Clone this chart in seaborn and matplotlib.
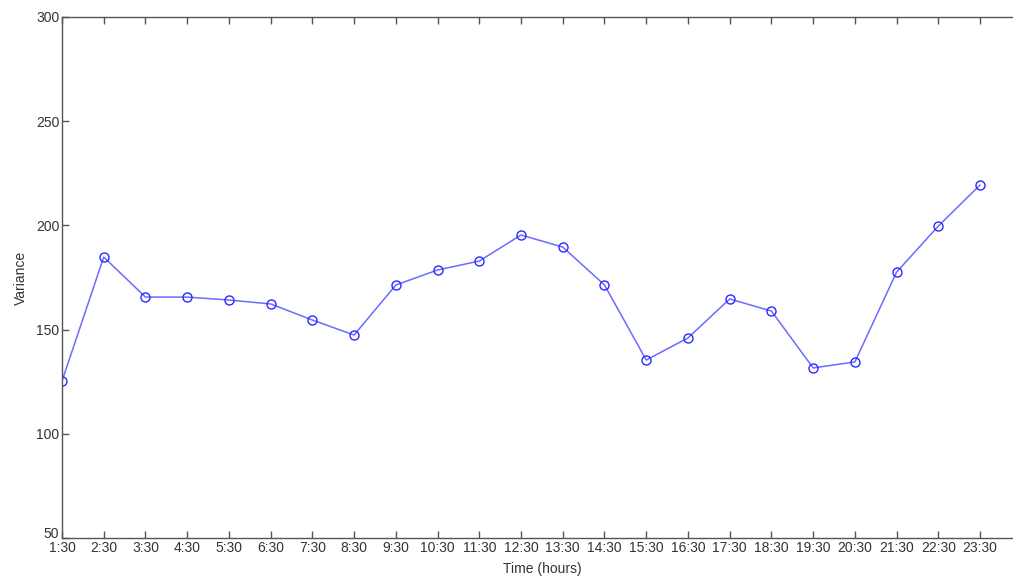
import matplotlib
matplotlib.use("Agg")
import matplotlib.pyplot as plt
import matplotlib.transforms as mtransforms
import seaborn as sns
import pandas as pd

hours = ["1:30", "2:30", "3:30", "4:30", "5:30", "6:30", "7:30", "8:30",
         "9:30", "10:30", "11:30", "12:30", "13:30", "14:30", "15:30",
         "16:30", "17:30", "18:30", "19:30", "20:30", "21:30", "22:30", "23:30"]
variance = [125.3, 184.8, 165.6, 165.6, 164.2, 162.3, 154.6, 147.4,
            171.4, 178.6, 182.9, 195.4, 189.6, 171.4, 135.4, 146.0,
            164.7, 158.9, 131.6, 134.5, 177.6, 199.7, 219.4]
y_ticks = [50, 100, 150, 200, 250, 300]

df = pd.DataFrame({"idx": range(1, len(hours) + 1), "variance": variance})

sns.set_style("white")
plt.rcParams["font.family"] = ["Liberation Sans", "DejaVu Sans"]

fig = plt.figure(figsize=(10.13, 5.77), dpi=100)
ax = fig.add_axes([62 / 1013, 39 / 577, 959.8 / 1013, 521 / 577])

sns.lineplot(data=df, x="idx", y="variance", ax=ax, color="#6b6bff",
             linewidth=1.1, marker="o", markersize=6.5,
             markerfacecolor="none", markeredgecolor="#2a2aff",
             markeredgewidth=1.0)

ax.set_xlim(1, 24)
ax.set_ylim(50, 300)
ax.set_xticks(df["idx"])
ax.set_xticklabels(hours)
ax.set_yticks(y_ticks)

grey = "#555555"
for side in ["left", "bottom", "top", "right"]:
    ax.spines[side].set_visible(True)
    ax.spines[side].set_color(grey)
    ax.spines[side].set_linewidth(1.0)

ax.tick_params(axis="both", direction="in", length=5, width=1.0,
               color=grey, labelcolor="#333333", labelsize=10,
               top=True, right=True, bottom=True, left=True, pad=2)

# lift the lowest y label a little so it clears the first x label
fig.canvas.draw()
lowest = ax.get_yticklabels()[0]
lowest.set_transform(lowest.get_transform() +
                     mtransforms.ScaledTranslation(0, 5 / 100, fig.dpi_scale_trans))

ax.set_xlabel("Time (hours)", fontsize=10, color="#333333", labelpad=5)
ax.set_ylabel("Variance", fontsize=10, color="#333333", labelpad=6)

fig.savefig("out.png", dpi=100)
